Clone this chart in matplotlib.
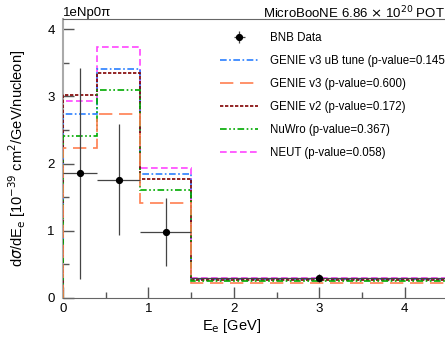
import numpy as np
import matplotlib.pyplot as plt
from matplotlib.ticker import MultipleLocator

plt.rcParams['font.family'] = ['Liberation Sans', 'DejaVu Sans']

# binning in electron energy [GeV]
edges = [0.0, 0.4, 0.9, 1.5, 4.5]

# BNB data
data_x = [0.2, 0.65, 1.2, 3.0]
data_y = [1.86, 1.75, 0.98, 0.30]
data_up = [1.56, 0.84, 0.51, 0.06]
data_dn = [1.58, 0.81, 0.51, 0.06]
data_xerr = [0.2, 0.25, 0.3, 1.5]

# generator predictions
genie_v3_ub = [2.74, 3.41, 1.84, 0.29]
genie_v3 = [2.23, 2.74, 1.42, 0.22]
genie_v2 = [3.02, 3.35, 1.77, 0.27]
nuwro = [2.41, 3.09, 1.60, 0.25]
neut = [2.93, 3.73, 1.94, 0.30]

fig = plt.figure(figsize=(4.45, 3.4), dpi=100)
ax = fig.add_axes([63 / 445, 42 / 340, (445 - 63) / 445, (298 - 19) / 340])

lw = 1.2
ax.stairs(neut, edges, color='#ff44ff', lw=lw, ls=(0, (4, 2)), label='NEUT (p-value=0.058)', zorder=2)
ax.stairs(genie_v3_ub, edges, color='#2a7fff', lw=lw, ls=(0, (4, 1.5, 1, 1.5)),
          label='GENIE v3 uB tune (p-value=0.145)', zorder=3)
ax.stairs(genie_v2, edges, color='#800000', lw=lw, ls=(0, (2, 1)), label='GENIE v2 (p-value=0.172)', zorder=3)
ax.stairs(nuwro, edges, color='#00aa00', lw=lw, ls=(0, (4, 1.5, 1, 1.5, 1, 1.5)),
          label='NuWro (p-value=0.367)', zorder=3)
ax.stairs(genie_v3, edges, color='#ff7f50', lw=lw, ls=(0, (8, 4)), label='GENIE v3 (p-value=0.600)', zorder=3)

ax.errorbar(data_x, data_y, yerr=[data_dn, data_up], xerr=data_xerr, fmt='o', color='black',
            ms=4.2, elinewidth=0.9, ecolor='#444444', capsize=0, label='BNB Data', zorder=5)

handles, labels = ax.get_legend_handles_labels()
order = ['BNB Data', 'GENIE v3 uB tune (p-value=0.145)', 'GENIE v3 (p-value=0.600)',
         'GENIE v2 (p-value=0.172)', 'NuWro (p-value=0.367)', 'NEUT (p-value=0.058)']
hmap = dict(zip(labels, handles))
ax.legend([hmap[k] for k in order], order, loc='upper left', bbox_to_anchor=(0.385, 0.99),
          frameon=False, fontsize=8.3, handlelength=3.3, labelspacing=0.95, handletextpad=1.0)

ax.set_xlim(0, 4.47)
ax.set_ylim(0, 4.15)
ax.xaxis.set_major_locator(MultipleLocator(1))
ax.xaxis.set_minor_locator(MultipleLocator(0.5))
ax.yaxis.set_major_locator(MultipleLocator(1))
ax.yaxis.set_minor_locator(MultipleLocator(0.5))
ax.tick_params(which='both', direction='in', labelsize=9.5, colors='#555555', labelcolor='black')
ax.tick_params(which='major', length=8, width=1)
ax.tick_params(which='minor', length=4, width=1)
ax.tick_params(axis='y', pad=6)
for s in ['left', 'bottom', 'top']:
    ax.spines[s].set_color('#666666')
ax.spines['left'].set_color('#aaaaaa')
ax.spines['left'].set_linewidth(1.5)
ax.spines['right'].set_visible(False)

ax.set_xlabel('E$_{\\rm e}$ [GeV]', fontsize=10.5)
ax.xaxis.set_label_coords((232 - 63) / (445 - 63), -0.068)
ax.set_ylabel('d$\\sigma$/dE$_{\\rm e}$ [10$^{-39}$ cm$^{2}$/GeV/nucleon]', fontsize=10.5)
ax.yaxis.set_label_coords(-0.092, 0.5)

fig.text(63 / 445, 1 - 13 / 340, '1eNp0π', fontsize=9.5, va='center', ha='left')
fig.text(1.0, 1 - 13 / 340, 'MicroBooNE 6.86 $\\times$ 10$^{20}$ POT', fontsize=9.5, va='center', ha='right')

fig.savefig('out.png', dpi=100)
